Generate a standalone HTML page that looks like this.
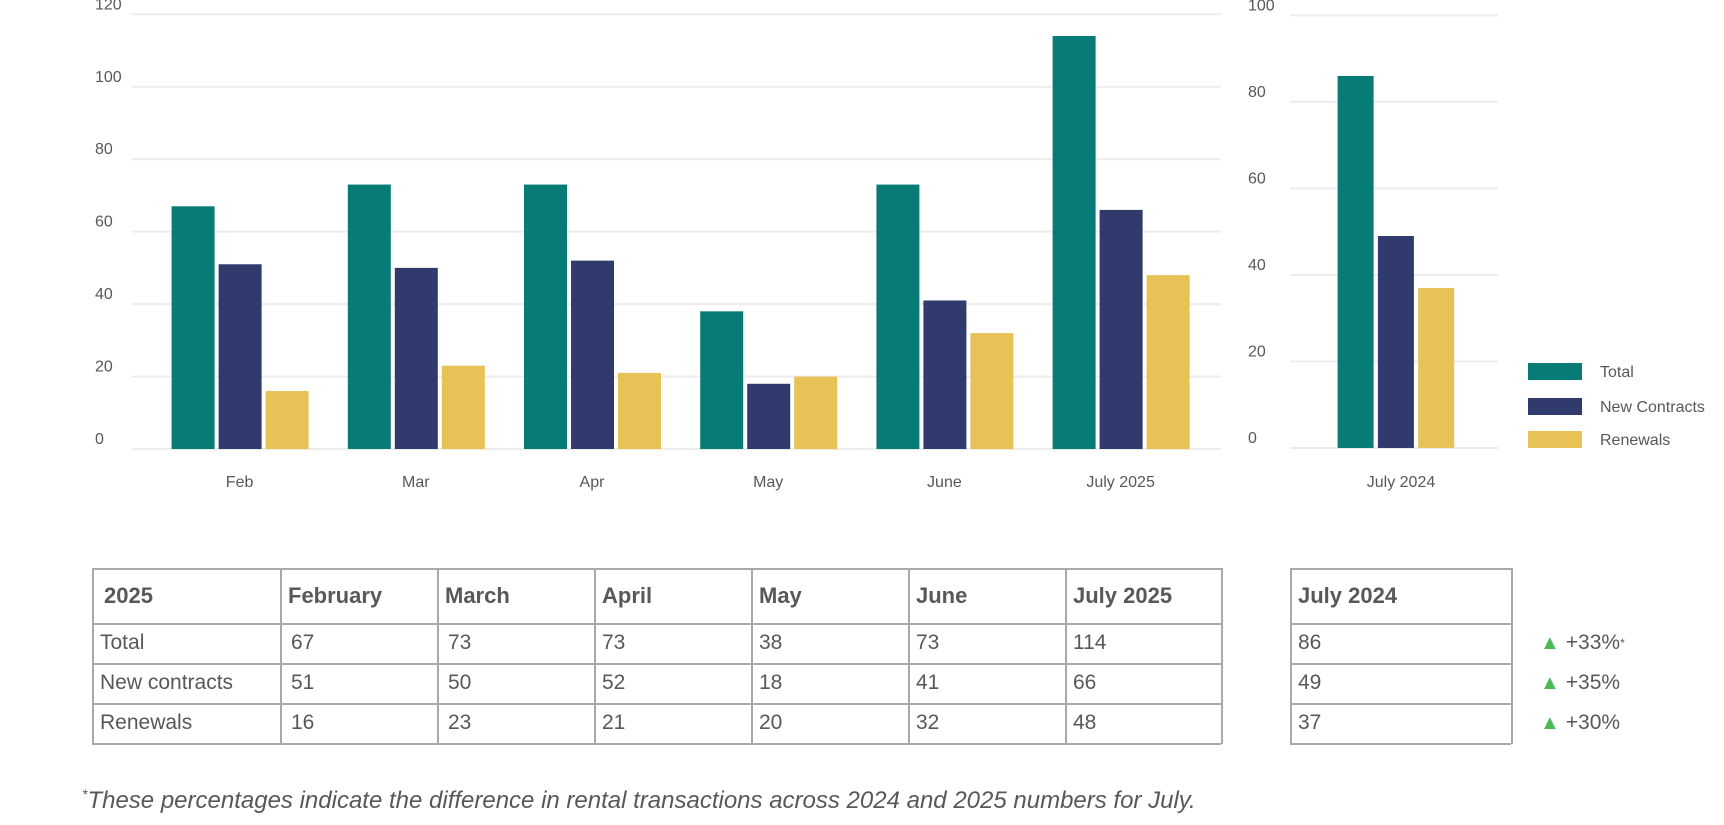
<!DOCTYPE html>
<html><head><meta charset="utf-8"><style>
body{margin:0;width:1724px;height:825px;background:#fff;font-family:"Liberation Sans",sans-serif;color:#58585a;position:relative;overflow:hidden}
svg{position:absolute;left:0;top:0}
.cell{position:absolute;box-sizing:border-box;font-size:21px;padding-left:8px;display:flex;align-items:center}
.h{font-weight:bold;font-size:22px}
.ln{position:absolute;background:#a9a9a9}
</style></head><body>
<svg id="chart" width="1724" height="520"></svg>
<div id="tbl"></div>
<div style="position:absolute;left:82px;top:786px;font-size:24px;font-style:italic;color:#58585a"><sup style="font-size:14px">*</sup>These percentages indicate the difference in rental transactions across 2024 and 2025 numbers for July.</div>
<script>
const categories=["Feb","Mar","Apr","May","June","July 2025"];
const totalVals=[67,73,73,38,73,114];
const newVals=[51,50,52,18,41,66];
const renVals=[16,23,21,20,32,48];
const leftTicks=[0,20,40,60,80,100,120];
const cat2024=["July 2024"];
const total2024=[86];
const new2024=[49];
const ren2024=[37];
const rightTicks=[0,20,40,60,80,100];
const pctLabels=["+33%","+35%","+30%"];
const colors=["#077b76","#303a6c","#e6c257"];
const NS="http://www.w3.org/2000/svg";
const svg=document.getElementById('chart');
function mk(t,a,p){const e=document.createElementNS(NS,t);for(const k in a)e.setAttribute(k,a[k]);(p||svg).appendChild(e);return e;}
// left axis
const yL=v=>449-v*(449-14.3)/120;
const xL=i=>171.6+i*176.2;
leftTicks.forEach(t=>{
 const g=mk('line',{x1:132,x2:1221,y1:yL(t),y2:yL(t),stroke:'#ececec','stroke-width':2});
 
 const tx=mk('text',{x:95,y:yL(t)-5,'font-size':16,fill:'#58585a'});tx.textContent=t;
 
});
const series=[totalVals,newVals,renVals];
categories.forEach((c,i)=>{
 series.forEach((s,j)=>{
  const r=mk('rect',{x:xL(i)+j*47,y:yL(s[i]),width:43,height:449-yL(s[i]),fill:colors[j]});
  
  
 });
 const l=mk('text',{x:xL(i)+68,y:487,'font-size':16,fill:'#58585a','text-anchor':'middle'});l.textContent=c;
 
});
// right axis
const yR=v=>448-v*(448-15.4)/100;
rightTicks.forEach(t=>{
 const g=mk('line',{x1:1290,x2:1498,y1:yR(t),y2:yR(t),stroke:'#ececec','stroke-width':2});
 
 const tx=mk('text',{x:1248,y:yR(t)-5,'font-size':16,fill:'#58585a'});tx.textContent=t;
 
});
const s24=[total2024,new2024,ren2024];
cat2024.forEach((c,i)=>{
 s24.forEach((s,j)=>{
  const r=mk('rect',{x:1337.6+j*40.3,y:yR(s[i]),width:36,height:448-yR(s[i]),fill:colors[j]});
  
 });
 const l=mk('text',{x:1401,y:487,'font-size':16,fill:'#58585a','text-anchor':'middle'});l.textContent=c;
 
});
// legend
["Total","New Contracts","Renewals"].forEach((n,j)=>{
 const yy=[363,398,431][j];
 const r=mk('rect',{x:1528,y:yy,width:54,height:17,fill:colors[j]});
 
 const t=mk('text',{x:1600,y:yy+14,'font-size':16,fill:'#58585a'});t.textContent=n;
 
});
// table
const tbl=document.getElementById('tbl');
const cols=[92,280,437,594,751,908,1065,1221];
const rows=[568,623,663,703,743];
const heads=["2025","February","March","April","May","June","July 2025"];
const rowNames=["Total","New contracts","Renewals"];
function cell(x,y,w,h,txt,cls,name){const d=document.createElement('div');d.className='cell '+(cls||'');
 d.style.left=x+'px';d.style.top=y+'px';d.style.width=w+'px';d.style.height=h+'px';d.textContent=txt;
 
 
 tbl.appendChild(d);return d;}
function line(x,y,w,h){const d=document.createElement('div');d.className='ln';d.style.left=x+'px';d.style.top=y+'px';d.style.width=w+'px';d.style.height=h+'px';
 
 
 tbl.appendChild(d);}
rows.forEach(y=>{line(92,y,1129,1.5);line(1290,y,221,1.5);});
cols.forEach(x=>line(x,568,1.5,176));
line(1290,568,1.5,176);line(1511,568,1.5,176);
heads.forEach((h,i)=>cell(cols[i]+(i==0?4:0),rows[0],cols[i+1]-cols[i],rows[1]-rows[0],h,'h','table-header'));
cell(1290,rows[0],221,rows[1]-rows[0],"July 2024",'h','table-header-2024');
rowNames.forEach((n,r)=>{
 cell(cols[0],rows[r+1],188,rows[r+2]-rows[r+1],n,'','row-label');
 const s=series[r];
 s.forEach((v,i)=>cell(cols[i+1]+(i<2?3:0),rows[r+1],157,rows[r+2]-rows[r+1],v,'','table-value'));
 cell(1290,rows[r+1],221,rows[r+2]-rows[r+1],s24[r][0],'','table-value-2024');
 const p=cell(1532,rows[r+1],120,rows[r+2]-rows[r+1],'','','pct-change');
 p.innerHTML='<span style="color:#4cb858;font-size:20px;margin-right:6px">&#9650;</span>'+pctLabels[r]+(r==0?'<sup style="font-size:12px">*</sup>':'');
});
</script>
</body></html>
